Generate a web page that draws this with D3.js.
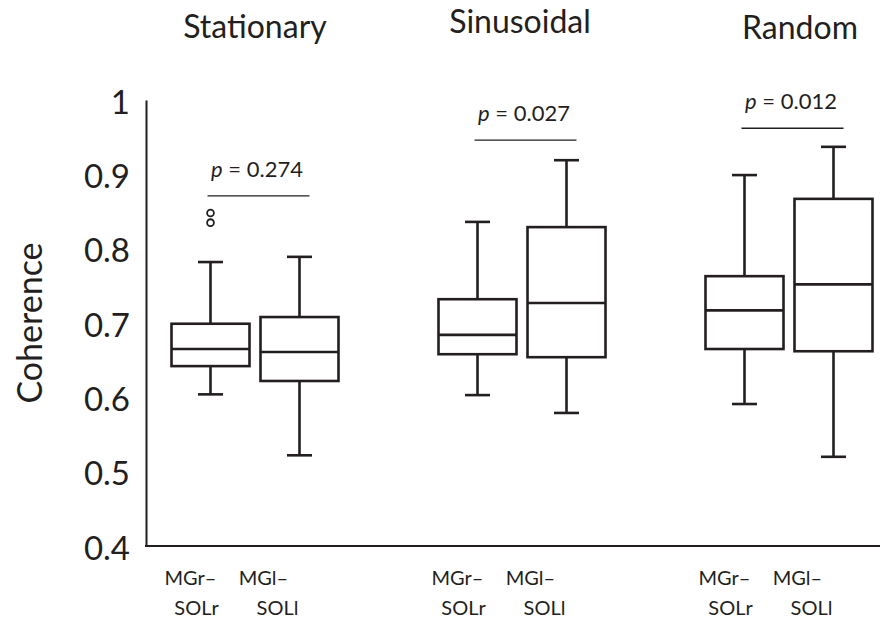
<!DOCTYPE html>
<html>
<head>
<meta charset="utf-8">
<script src="https://cdn.jsdelivr.net/npm/d3@7"></script>
<style>
  html, body { margin: 0; padding: 0; background: #fff; }
  svg { display: block; font-family: Lato, "Open Sans", sans-serif; }
</style>
</head>
<body>
<div id="chart"></div>
<script>
// coherence box plots — three conditions, two muscle pairs each
const groups = ["Stationary", "Sinusoidal", "Random"];
const pairs = ["MGr–SOLr", "MGl–SOLl"];
const pairLines = [["MGr–", "SOLr"], ["MGl–", "SOLl"]];

// [group][pair]
const lowWhisker  = [[0.604, 0.522], [0.603, 0.579], [0.591, 0.520]];
const q1          = [[0.642, 0.622], [0.658, 0.654], [0.665, 0.662]];
const medians     = [[0.665, 0.661], [0.684, 0.727], [0.717, 0.752]];
const q3          = [[0.699, 0.708], [0.732, 0.829], [0.763, 0.867]];
const highWhisker = [[0.782, 0.789], [0.836, 0.919], [0.899, 0.937]];
const outliers    = [[[0.848, 0.835], []], [[], []], [[], []]];

const pValues = ["0.274", "0.027", "0.012"];
const bracketLevel = [0.871, 0.946, 0.962];
const yTicks = [0.4, 0.5, 0.6, 0.7, 0.8, 0.9, 1];

const W = 895, H = 626;
const ink = "#231f20";
const boxW = 78, capW = 25;

const svg = d3.select("#chart").append("svg").attr("width", W).attr("height", H);

const y = d3.scaleLinear().domain([0.4, 1]).range([546, 100]);
const gx = d3.scalePoint().domain(groups).range([255, 789]);
const px = d3.scalePoint().domain(pairs).range([-44.5, 44.5]);

// flatten to one row per box
const boxes = [];
groups.forEach((g, gi) => pairs.forEach((p, pi) => boxes.push({
  g, p, pi,
  lo: lowWhisker[gi][pi], q1: q1[gi][pi], med: medians[gi][pi],
  q3: q3[gi][pi], hi: highWhisker[gi][pi], out: outliers[gi][pi],
  cx: gx(g) + px(p)
})));

// axes
const yAxis = d3.axisLeft(y).tickValues(yTicks).tickFormat(d3.format("")).tickSize(0).tickPadding(16);
const yAxisG = svg.append("g").attr("transform", "translate(146,0)").call(yAxis);
yAxisG.select(".domain").attr("stroke", ink).attr("stroke-width", 2);
yAxisG.selectAll("text")
  .attr("fill", ink).attr("font-size", 33).attr("dy", "0.4em")
  .style("font-family", "Lato, sans-serif");

svg.append("line")
  .attr("x1", 145).attr("x2", 880)
  .attr("y1", y(0.4)).attr("y2", y(0.4))
  .attr("stroke", ink).attr("stroke-width", 2);

svg.append("text")
  .attr("transform", `translate(42,${(y(0.4) + y(1)) / 2}) rotate(-90)`)
  .attr("text-anchor", "middle")
  .attr("fill", ink).attr("font-size", 34)
  .text("Coherence");

// titles
const titleY = [38, 33, 39];
const titleDx = [0, -2, 11];
svg.selectAll(".title").data(groups).join("text")
  .attr("class", "title")
  .attr("x", (d, i) => gx(d) + titleDx[i])
  .attr("y", (d, i) => titleY[i])
  .attr("text-anchor", "middle")
  .attr("fill", ink).attr("font-size", 32)
  .text(d => d);

// boxes
const bg = svg.selectAll(".box").data(boxes).join("g").attr("class", "box");

bg.append("line")
  .attr("x1", d => d.cx).attr("x2", d => d.cx)
  .attr("y1", d => y(d.hi)).attr("y2", d => y(d.q3))
  .attr("stroke", ink).attr("stroke-width", 2.6);
bg.append("line")
  .attr("x1", d => d.cx).attr("x2", d => d.cx)
  .attr("y1", d => y(d.q1)).attr("y2", d => y(d.lo))
  .attr("stroke", ink).attr("stroke-width", 2.6);
bg.append("line")
  .attr("x1", d => d.cx - capW / 2).attr("x2", d => d.cx + capW / 2)
  .attr("y1", d => y(d.hi)).attr("y2", d => y(d.hi))
  .attr("stroke", ink).attr("stroke-width", 2.6);
bg.append("line")
  .attr("x1", d => d.cx - capW / 2).attr("x2", d => d.cx + capW / 2)
  .attr("y1", d => y(d.lo)).attr("y2", d => y(d.lo))
  .attr("stroke", ink).attr("stroke-width", 2.6);
bg.append("rect")
  .attr("x", d => d.cx - boxW / 2).attr("width", boxW)
  .attr("y", d => y(d.q3)).attr("height", d => y(d.q1) - y(d.q3))
  .attr("fill", "#fff").attr("stroke", ink).attr("stroke-width", 2.6);
bg.append("line")
  .attr("x1", d => d.cx - boxW / 2).attr("x2", d => d.cx + boxW / 2)
  .attr("y1", d => y(d.med)).attr("y2", d => y(d.med))
  .attr("stroke", ink).attr("stroke-width", 2.6);
bg.selectAll("circle").data(d => d.out.map(v => ({ v, cx: d.cx }))).join("circle")
  .attr("cx", d => d.cx).attr("cy", d => y(d.v)).attr("r", 3.4)
  .attr("fill", "none").attr("stroke", ink).attr("stroke-width", 1.8);

// significance brackets
const br = svg.selectAll(".bracket").data(groups).join("g").attr("class", "bracket");
br.append("line")
  .attr("x1", d => gx(d) + px(pairs[0]) - 3)
  .attr("x2", d => gx(d) + px(pairs[1]) + 10)
  .attr("y1", (d, i) => y(bracketLevel[i])).attr("y2", (d, i) => y(bracketLevel[i]))
  .attr("stroke", ink).attr("stroke-width", 1.3);
const pt = br.append("text")
  .attr("x", d => gx(d) + 2)
  .attr("y", (d, i) => y(bracketLevel[i]) - 19)
  .attr("text-anchor", "middle")
  .attr("fill", ink).attr("font-size", 22);
pt.append("tspan").attr("font-style", "italic").text("p");
pt.append("tspan").text((d, i) => " = " + pValues[i]);

// category labels
const lineDx = [[-20, -14], [-36, -22]];
const lineY = [585, 615];
boxes.forEach(d => {
  pairLines[d.pi].forEach((t, li) => {
    svg.append("text")
      .attr("x", d.cx + lineDx[d.pi][li])
      .attr("y", lineY[li])
      .attr("text-anchor", "middle")
      .attr("fill", ink).attr("font-size", 20)
      .text(t);
  });
});
</script>
</body>
</html>
